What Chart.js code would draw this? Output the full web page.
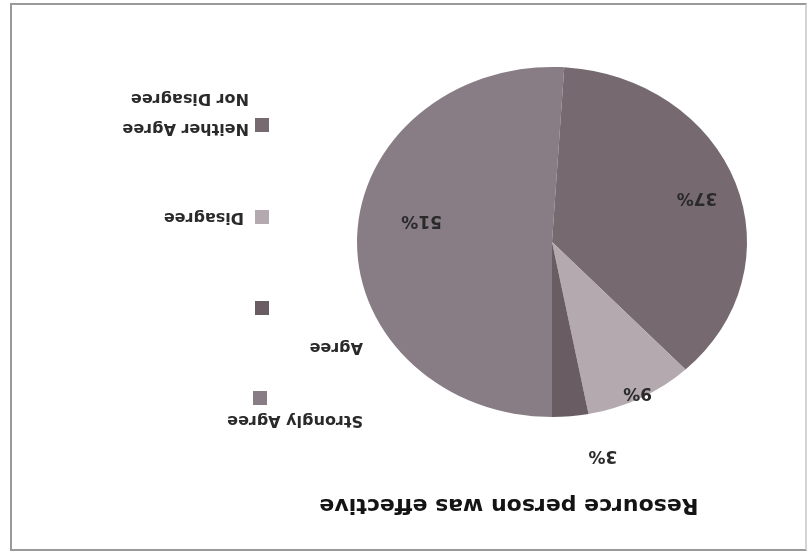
<!DOCTYPE html>
<html>
<head>
<meta charset="utf-8">
<title>Resource person was effective</title>
<script src="https://cdn.jsdelivr.net/npm/chart.js@4.4.1/dist/chart.umd.min.js"></script>
<style>
  html, body { margin: 0; padding: 0; background: #fff; }
  body { width: 811px; height: 555px; position: relative; overflow: hidden; }
  /* the scanned page frame */
  .frame {
    position: absolute; left: 10px; top: 3px; width: 793px; height: 544px;
    border: 2px solid #9a9a9a; border-right-color: #d4d4d4;
  }
  /* the source picture is upside down, so the whole chart is turned */
  #pie { position: absolute; left: 0; top: 0; transform: rotate(180deg); }
</style>
</head>
<body>
<div class="frame"></div>
<canvas id="pie" width="811" height="555"></canvas>
<script>
// ── Data ──────────────────────────────────────────────────────────────
const categories   = ['Strongly Agree', 'Agree', 'Disagree', 'Neither Agree Nor Disagree'];
const percentages  = [51, 3, 9, 37];
const sliceColors  = ['#897d85', '#695c63', '#b5a9b0', '#766a70'];
// slices in the source run clockwise: Strongly Agree, Neither, Disagree, Agree
const sliceOrder   = [0, 3, 2, 1];

// ── Layout (unrotated frame) ──────────────────────────────────────────
const PIE_RADIUS = 195;
const PIE_SQUASH = 175 / 195;            // the photo shows the pie a little flattened
const FONT = "'DejaVu Sans', sans-serif";

// label distance (share of radius) and angle nudge (deg), legend order
const labelRadius = [0.68, 1.245, 0.967, 0.787];
const labelNudge  = [8.8, -6.7, 0, 0.7];

// legend squares and texts, legend order
const legendItems = [
  { sq: [551, 157], text: ['Strongly Agree'], tx: 448, ty: 135 },
  { sq: [549, 247], text: ['Agree'], tx: 448, ty: 208 },
  { sq: [549, 338], text: ['Disagree'], tx: 567, ty: 338 },
  { sq: [549, 430], text: ['Neither Agree', 'Nor Disagree'], tx: 562, ty: 427 },
];

const squashPlugin = {
  id: 'squash',
  beforeDatasetsDraw(chart) {
    const arc = chart.getDatasetMeta(0).data[0];
    const ctx = chart.ctx;
    ctx.save();
    ctx.translate(arc.x, arc.y);
    ctx.scale(1, PIE_SQUASH);
    ctx.translate(-arc.x, -arc.y);
  },
  afterDatasetsDraw(chart) {
    chart.ctx.restore();
  },
};

const decorPlugin = {
  id: 'decor',
  afterDraw(chart) {
    const ctx = chart.ctx;
    const arcs = chart.getDatasetMeta(0).data;

    // title
    ctx.save();
    ctx.fillStyle = '#141414';
    ctx.font = 'bold 22px ' + FONT;
    ctx.textAlign = 'center';
    ctx.textBaseline = 'middle';
    ctx.fillText('Resource person was effective', 302, 50);

    // percentage labels
    ctx.font = 'bold 17px ' + FONT;
    ctx.fillStyle = '#2a2a2a';
    arcs.forEach((arc, i) => {
      const k = sliceOrder[i];
      const mid = (arc.startAngle + arc.endAngle) / 2 + labelNudge[k] * Math.PI / 180;
      const r = arc.outerRadius * labelRadius[k];
      const x = arc.x + Math.cos(mid) * r;
      const y = arc.y + Math.sin(mid) * r * PIE_SQUASH;
      ctx.fillText(percentages[k] + '%', x, y);
    });

    // legend
    ctx.textAlign = 'left';
    ctx.font = 'bold 16px ' + FONT;
    legendItems.forEach((item, k) => {
      ctx.fillStyle = sliceColors[k];
      ctx.fillRect(item.sq[0] - 7, item.sq[1] - 7, 14, 14);
      ctx.fillStyle = '#2a2a2a';
      item.text.forEach((line, j) => ctx.fillText(line, item.tx, item.ty + j * 30));
    });
    ctx.restore();
  },
};

new Chart(document.getElementById('pie'), {
  type: 'pie',
  data: {
    labels: sliceOrder.map(k => categories[k]),
    datasets: [{
      data: sliceOrder.map(k => percentages[k]),
      backgroundColor: sliceOrder.map(k => sliceColors[k]),
      borderWidth: 0,
      hoverOffset: 0,
    }],
  },
  options: {
    responsive: false,
    animation: false,
    events: [],
    radius: PIE_RADIUS,
    layout: { padding: { left: 64, right: 357, top: 118, bottom: 47 } },
    plugins: {
      legend: { display: false },
      title: { display: false },
      tooltip: { enabled: false },
    },
  },
  plugins: [squashPlugin, decorPlugin],
});
</script>
</body>
</html>
